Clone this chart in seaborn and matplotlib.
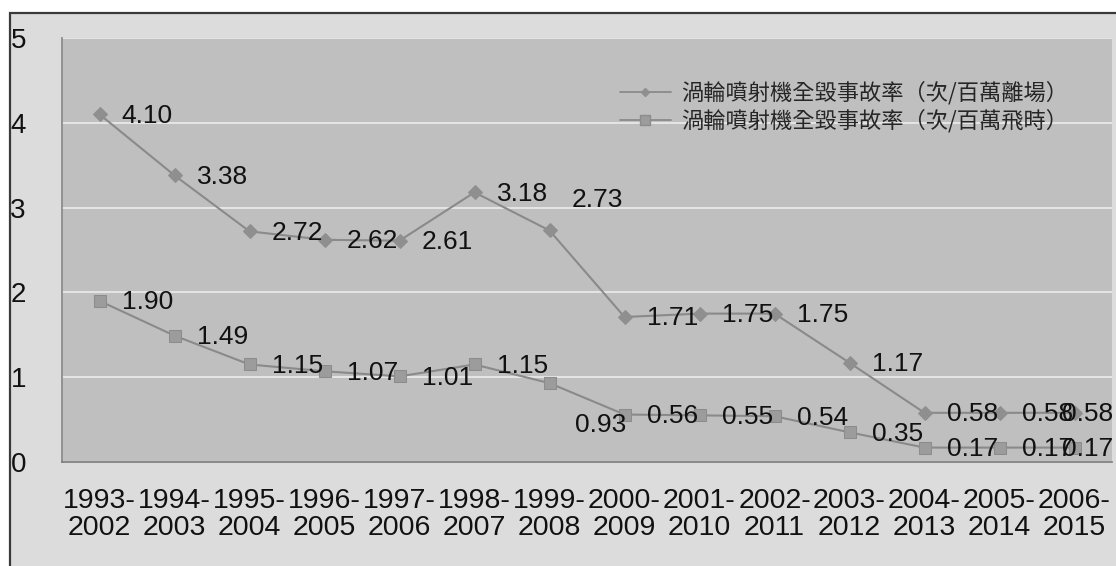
import matplotlib
matplotlib.use("Agg")
import matplotlib.pyplot as plt
from matplotlib.patches import Rectangle
from matplotlib.lines import Line2D
import seaborn as sns
import pandas as pd

# Ten-year rolling windows
periods = ["1993-\n2002", "1994-\n2003", "1995-\n2004", "1996-\n2005", "1997-\n2006",
           "1998-\n2007", "1999-\n2008", "2000-\n2009", "2001-\n2010", "2002-\n2011",
           "2003-\n2012", "2004-\n2013", "2005-\n2014", "2006-\n2015"]

# Hull-loss accident rates for turbojet aircraft
rate_departures = [4.10, 3.38, 2.72, 2.62, 2.61, 3.18, 2.73, 1.71, 1.75, 1.75, 1.17, 0.58, 0.58, 0.58]
rate_hours = [1.90, 1.49, 1.15, 1.07, 1.01, 1.15, 0.93, 0.56, 0.55, 0.54, 0.35, 0.17, 0.17, 0.17]

label_departures = "渦輪噴射機全毀事故率（次/百萬離場）"
label_hours = "渦輪噴射機全毀事故率（次/百萬飛時）"

y_ticks = [0, 1, 2, 3, 4, 5]

sns.set_theme(style="white")
plt.rcParams["font.family"] = ["Liberation Sans", "Noto Sans CJK TC", "DejaVu Sans"]

LINE_GREY = "#8a8a8a"
PLOT_BG = "#bfbfbf"
CHART_BG = "#dcdcdc"

fig = plt.figure(figsize=(11.16, 5.66), dpi=100)
fig.patch.set_facecolor("white")

# Chart area frame
fig.add_artist(Rectangle((10 / 1116, -0.05), 1.2, (566 - 13) / 566 + 0.05,
                         transform=fig.transFigure, facecolor=CHART_BG,
                         edgecolor="#3a3a3a", linewidth=1.6, zorder=0))

ax = fig.add_axes([62 / 1116, 104 / 566, 1050 / 1116, 424 / 566])
ax.set_facecolor(PLOT_BG)

df = pd.DataFrame({
    "idx": list(range(len(periods))) * 2,
    "rate": rate_departures + rate_hours,
    "series": [label_departures] * len(periods) + [label_hours] * len(periods),
})

sns.lineplot(data=df[df["series"] == label_departures], x="idx", y="rate", ax=ax,
             color=LINE_GREY, linewidth=1.5, marker="D", markersize=7.5,
             markerfacecolor="#8f8f8f", markeredgecolor="#8f8f8f", legend=False, zorder=3)
sns.lineplot(data=df[df["series"] == label_hours], x="idx", y="rate", ax=ax,
             color=LINE_GREY, linewidth=1.5, marker="s", markersize=9,
             markerfacecolor="#9c9c9c", markeredgecolor="#8c8c8c", legend=False, zorder=3)

# Value labels beside each point (offsets in points)
default_off = (16, -1)
special_dep = {6: (16, 22), 13: (-9, -1)}
special_hrs = {6: (18, -30), 13: (-9, -1)}
for values, special in ((rate_departures, special_dep), (rate_hours, special_hrs)):
    for i, v in enumerate(values):
        dx, dy = special.get(i, default_off)
        ax.annotate(f"{v:.2f}", (i, v), xytext=(dx, dy), textcoords="offset points",
                    ha="left", va="center", fontsize=19, color="#111111", zorder=4,
                    annotation_clip=False)

ax.set_xlim(-0.5, len(periods) - 0.5)
ax.set_ylim(0, 5)
ax.set_xticks(range(len(periods)))
ax.set_xticklabels(periods, fontsize=20.5, color="#111111", linespacing=1.05)
ax.set_xticks([i + 0.5 for i in range(len(periods) - 1)], minor=True)
ax.set_yticks(y_ticks)
ax.set_yticklabels([str(t) for t in y_ticks], fontsize=20, color="#111111")
ax.tick_params(axis="x", which="major", length=0, pad=19)
ax.tick_params(axis="x", which="minor", direction="in", length=4, color="#777777", width=1)
ax.tick_params(axis="y", length=0, pad=26)

ax.grid(axis="y", color="#e8e8e8", linewidth=1.3)
ax.set_axisbelow(True)
ax.set_xlabel("")
ax.set_ylabel("")
for side in ("top", "right"):
    ax.spines[side].set_visible(False)
ax.spines["left"].set_color("#8a8a8a")
ax.spines["bottom"].set_color("#7a7a7a")
ax.spines["bottom"].set_linewidth(1.2)

handles = [
    Line2D([0], [0], color=LINE_GREY, linewidth=1.3, marker="D", markersize=4,
           markerfacecolor="#8f8f8f", markeredgecolor="#8f8f8f"),
    Line2D([0], [0], color=LINE_GREY, linewidth=1.3, marker="s", markersize=7,
           markerfacecolor="#9c9c9c", markeredgecolor="#8c8c8c"),
]
ax.legend(handles, [label_departures, label_hours], loc="upper right",
          bbox_to_anchor=(0.977, 0.945), frameon=False, handlelength=2.3,
          handletextpad=0.45, labelspacing=0.2,
          prop={"family": ["Noto Sans CJK TC", "DejaVu Sans"], "size": 16})

fig.savefig("out.png", dpi=100)
